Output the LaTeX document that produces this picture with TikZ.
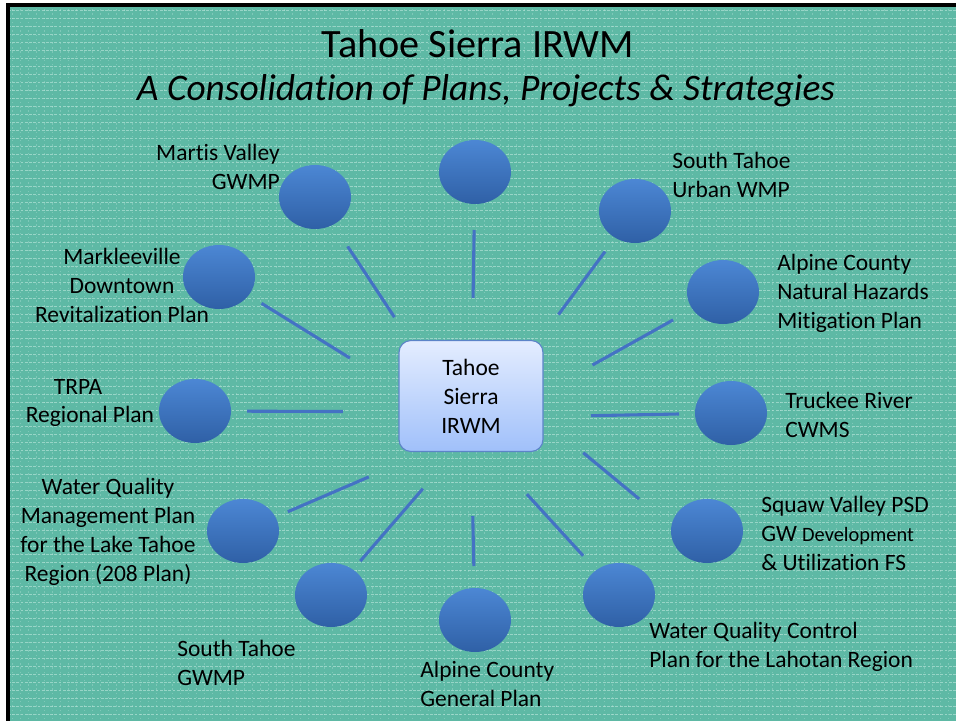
\documentclass[tikz,border=0pt]{standalone}
\usepackage{fontspec}
\setmainfont{Carlito}[Ligatures=NoCommon]
\usetikzlibrary{shapes.geometric}
\definecolor{slidebg}{RGB}{94,185,165}
\definecolor{texture}{RGB}{200,236,228}
\definecolor{spoke}{RGB}{68,114,196}
\definecolor{planlight}{RGB}{76,135,212}
\definecolor{plandark}{RGB}{47,96,166}
\definecolor{hublight}{RGB}{228,237,255}
\definecolor{hubdark}{RGB}{160,192,250}
\definecolor{hubline}{RGB}{92,132,200}
\newcommand{\labelfont}{\fontsize{16.7}{20.6}\selectfont}
\tikzstyle{plan}=[ellipse, minimum width=1.8cm, minimum height=1.6cm, top color=planlight, bottom color=plandark]
\tikzstyle{hubbox}=[rectangle, rounded corners=0.3cm, minimum width=3.6cm, minimum height=2.775cm, top color=hublight, bottom color=hubdark, draw=hubline, line width=0.8pt, align=center, font=\labelfont]
\tikzstyle{spoke}=[draw=spoke, line width=2.2pt]
\tikzstyle{plantext}=[inner sep=0pt, font=\labelfont]

\begin{document}
\begin{tikzpicture}[x=0.025cm, y=-0.025cm]
  \useasboundingbox (0,0) rectangle (956,721);
  \fill[white] (0,0) rectangle (956,721);
  \fill[slidebg] (8,5) rectangle (956,721);
  \foreach \y in {10,18,...,718}
    \draw[texture, opacity=.55, line width=.55pt, dash pattern=on 2pt off 1pt] (8,\y) -- (956,\y);
  \foreach \x in {12,20,...,956}
    \draw[texture, opacity=.3, line width=.5pt, dash pattern=on 1pt off 2pt] (\x,5) -- (\x,721);
  \draw[line width=2.2pt] (8,721) -- (8,5) -- (956,5);

  %% Title
  \draw (478,44) node[font=\fontsize{28.6}{32}\selectfont] (title) {Tahoe Sierra IRWM};
  \draw (486,91) node[font=\fontsize{26.6}{30}\selectfont\itshape] (subtitle) {A Consolidation of Plans, Projects \& Strategies};

  \draw (471,396) node[hubbox] (hub) {Tahoe\\Sierra\\IRWM};
  \coordinate (hubfoot) at ([yshift=-0.925cm]hub.center);

  \draw (475,172) node[plan] (E1) {};
  \draw (315,197) node[plan] (E2) {};
  \draw (635,211) node[plan] (E3) {};
  \draw (219,277) node[plan] (E4) {};
  \draw (723,292) node[plan] (E5) {};
  \draw (195,411) node[plan] (E6) {};
  \draw (731,413) node[plan] (E7) {};
  \draw (243,531) node[plan] (E8) {};
  \draw (707,531) node[plan] (E9) {};
  \draw (331,595) node[plan] (E10) {};
  \draw (475,620) node[plan] (E11) {};
  \draw (619,595) node[plan] (E12) {};

  \draw[spoke, shorten <=3.375cm, shorten >=1.45cm] (hubfoot) -- (E1.center);
  \draw[spoke, shorten <=3.47cm, shorten >=1.48cm] (hubfoot) -- (E2.center);
  \draw[spoke, shorten <=3.68cm, shorten >=1.26cm] (hubfoot) -- (E3.center);
  \draw[spoke, shorten <=3.56cm, shorten >=1.25cm] (hubfoot) -- (E4.center);
  \draw[spoke, shorten <=3.48cm, shorten >=1.43cm] (hubfoot) -- (E5.center);
  \draw[spoke, shorten <=3.2cm, shorten >=1.3cm] ([yshift=-0.4cm]hub.center) -- (E6.center);
  \draw[spoke, shorten <=3.0cm, shorten >=1.3cm] ([yshift=-0.55cm]hub.center) -- (E7.center);
  \draw[spoke, shorten <=2.78cm, shorten >=1.22cm] (hubfoot) -- (E8.center);
  \draw[spoke, shorten <=3.64cm, shorten >=2.2cm] ([yshift=0.9cm]hub.center) -- ([yshift=-0.6cm]E9.center);
  \draw[spoke, shorten <=1.84cm, shorten >=1.12cm] (hubfoot) -- (E10.center);
  \draw[spoke, shorten <=2.08cm, shorten >=1.35cm] (hubfoot) -- (E11.center);
  \draw[spoke, shorten <=2.07cm, shorten >=1.33cm] (hubfoot) -- (E12.center);

  %% Plan names
  \draw (280,167) node[plantext, anchor=east, align=right] (T2) {Martis Valley\\GWMP};
  \draw (672,175) node[plantext, anchor=west, align=left] (T3) {South Tahoe\\Urban WMP};
  \draw (122,285) node[plantext, align=center] (T4) {Markleeville\\Downtown\\Revitalization Plan};
  \draw (777,293) node[plantext, anchor=west, align=left] (T5) {Alpine County\\Natural Hazards\\Mitigation Plan};
  \draw (90,403) node[plantext, align=center] (T6) {TRPA\hspace*{17pt}\\Regional Plan};
  \draw (785,415) node[plantext, anchor=west, align=left] (T7) {Truckee River\\CWMS};
  \draw (108,532) node[plantext, align=center] (T8) {Water Quality\\Management Plan\\for the Lake Tahoe\\Region (208 Plan)};
  \draw (761,533) node[plantext, anchor=west, align=left] (T9) {Squaw Valley PSD\\GW {\fontsize{14.5}{20.6}\selectfont Development}\\\& Utilization FS};
  \draw (177,663) node[plantext, anchor=west, align=left] (T10) {South Tahoe\\GWMP};
  \draw (420,684) node[plantext, anchor=west, align=left] (T11) {Alpine County\\General Plan};
  \draw (649,647) node[plantext, anchor=west, align=left] (T12) {Water Quality Control\\Plan for the Lahotan Region};
\end{tikzpicture}
\end{document}
